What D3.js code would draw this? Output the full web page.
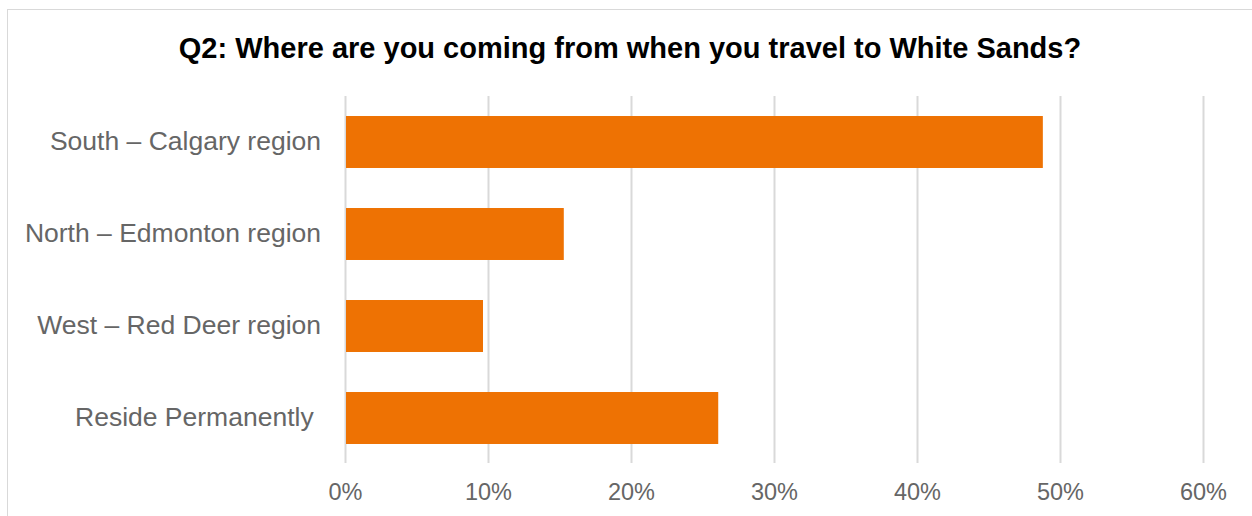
<!DOCTYPE html>
<html>
<head>
<meta charset="utf-8">
<script src="https://cdn.jsdelivr.net/npm/d3@7"></script>
<style>
  body { margin: 0; background: #fff; }
  svg { display: block; font-family: "Liberation Sans", Arial, sans-serif; }
</style>
</head>
<body>
<svg width="1252" height="516"></svg>
<script>
// data
var categories = ["South \u2013 Calgary region", "North \u2013 Edmonton region", "West \u2013 Red Deer region", "Reside Permanently "];
var shares = [0.488, 0.153, 0.0965, 0.261];
var tickValues = [0, 0.1, 0.2, 0.3, 0.4, 0.5, 0.6];

var svg = d3.select("svg");

// chart frame
svg.append("rect")
    .attr("x", 7.5).attr("y", 9.5)
    .attr("width", 1260).attr("height", 520)
    .attr("fill", "none")
    .attr("stroke", "#d9d9d9")
    .attr("stroke-width", 1);

svg.append("text")
    .attr("x", 630).attr("y", 58)
    .attr("text-anchor", "middle")
    .attr("font-size", 29)
    .attr("font-weight", "bold")
    .attr("fill", "#000")
    .text("Q2: Where are you coming from when you travel to White Sands?");

var x = d3.scaleLinear().domain([0, 0.6]).range([345, 1203]);
var y = d3.scaleBand().domain(categories).range([96, 464]).paddingInner(0.435).paddingOuter(0.2175);

// gridlines
svg.append("g")
    .selectAll("line")
    .data(tickValues)
    .enter()
    .append("line")
    .attr("x1", d => Math.round(x(d)) + 0.5)
    .attr("x2", d => Math.round(x(d)) + 0.5)
    .attr("y1", 96).attr("y2", 463)
    .attr("stroke", "#d9d9d9")
    .attr("stroke-width", 2);

// bars
svg.append("g")
    .selectAll("rect")
    .data(categories)
    .enter()
    .append("rect")
    .attr("x", x(0) + 1)
    .attr("y", d => y(d))
    .attr("width", (d, i) => x(shares[i]) - x(0) - 1)
    .attr("height", y.bandwidth())
    .attr("fill", "#ee7203");

// x axis labels
var xAxis = svg.append("g")
    .attr("transform", "translate(0,463)")
    .call(d3.axisBottom(x).tickValues(tickValues).tickFormat(d3.format(".0%")).tickSize(0).tickPadding(20));
xAxis.select(".domain").remove();
xAxis.selectAll("text")
    .attr("font-size", 23.5)
    .attr("font-family", "Liberation Sans, Arial, sans-serif")
    .attr("fill", "#666666");

// y axis labels
var yAxis = svg.append("g")
    .attr("transform", "translate(321,0)")
    .call(d3.axisLeft(y).tickSize(0).tickPadding(0));
yAxis.select(".domain").remove();
yAxis.selectAll("text")
    .attr("font-size", 26.5)
    .attr("font-family", "Liberation Sans, Arial, sans-serif")
    .attr("fill", "#666666")
    .style("white-space", "pre");
</script>
</body>
</html>
